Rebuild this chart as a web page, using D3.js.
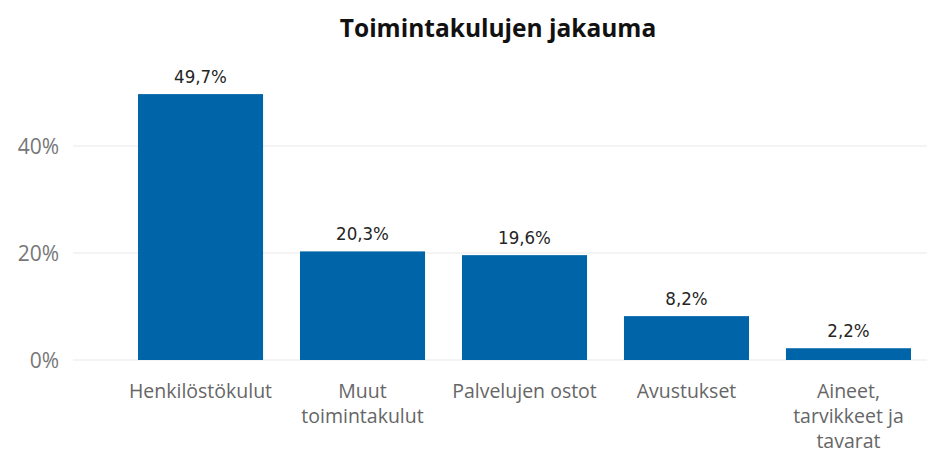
<!DOCTYPE html>
<html>
<head>
<meta charset="utf-8">
<script src="https://cdn.jsdelivr.net/npm/d3@7"></script>
<style>
  body { margin: 0; background: #fff; }
  svg { display: block; }
</style>
</head>
<body>
<svg id="chart"></svg>
<script>
// data
const categories = ["Henkilöstökulut", "Muut toimintakulut", "Palvelujen ostot", "Avustukset", "Aineet, tarvikkeet ja tavarat"];
const labelLines = [["Henkilöstökulut"], ["Muut", "toimintakulut"], ["Palvelujen ostot"], ["Avustukset"], ["Aineet,", "tarvikkeet ja", "tavarat"]];
const values = [49.7, 20.3, 19.6, 8.2, 2.2];
const yTicks = [0, 20, 40];

const W = 927, H = 455;
const svg = d3.select("#chart").attr("width", W).attr("height", H);

const x = d3.scaleBand()
    .domain(categories)
    .range([138, 911])
    .paddingInner(0.228)
    .paddingOuter(0);

const y = d3.scaleLinear()
    .domain([0, 40])
    .range([360, 146]);

// gridlines
svg.append("g")
  .selectAll("line")
  .data(yTicks)
  .join("line")
    .attr("x1", 73).attr("x2", W)
    .attr("y1", d => y(d)).attr("y2", d => y(d))
    .attr("stroke", "#e9e9e9")
    .attr("stroke-width", 1);

// y labels
svg.append("g")
  .selectAll("text")
  .data(yTicks)
  .join("text")
    .attr("x", 59)
    .attr("y", d => y(d))
    .attr("dy", "0.36em")
    .attr("text-anchor", "end")
    .attr("fill", "#777")
    .style("font-family", "'Open Sans', sans-serif")
    .style("font-size", "21px")
    .text(d => d + "%");

// bars
svg.append("g")
  .selectAll("rect")
  .data(values)
  .join("rect")
    .attr("x", (d, i) => x(categories[i]))
    .attr("y", d => y(d))
    .attr("width", x.bandwidth())
    .attr("height", d => y(0) - y(d))
    .attr("fill", "#0064a8");

// value labels
svg.append("g")
  .selectAll("text")
  .data(values)
  .join("text")
    .attr("x", (d, i) => x(categories[i]) + x.bandwidth() / 2)
    .attr("y", d => y(d) - 11)
    .attr("text-anchor", "middle")
    .attr("fill", "#252525")
    .style("font-family", "'DejaVu Sans Condensed', 'DejaVu Sans', sans-serif")
    .style("font-stretch", "condensed")
    .style("font-size", "18.5px")
    .text(d => d.toFixed(1).replace(".", ",") + "%");

// category labels
const cat = svg.append("g")
  .selectAll("text")
  .data(labelLines)
  .join("text")
    .attr("x", (d, i) => x(categories[i]) + x.bandwidth() / 2)
    .attr("y", 398)
    .attr("text-anchor", "middle")
    .attr("fill", "#666")
    .style("font-family", "'Open Sans', sans-serif")
    .style("font-size", "19.5px");
cat.each(function(lines, i) {
  const t = d3.select(this);
  const cx = x(categories[i]) + x.bandwidth() / 2;
  lines.forEach((l, j) => {
    t.append("tspan").attr("x", cx).attr("dy", j === 0 ? 0 : 25).text(l);
  });
});

// title
svg.append("text")
  .attr("x", 498)
  .attr("y", 37)
  .attr("text-anchor", "middle")
  .attr("fill", "#111")
  .style("font-family", "'Open Sans', sans-serif")
  .style("font-weight", "bold")
  .style("font-size", "24.5px")
  .text("Toimintakulujen jakauma");
</script>
</body>
</html>
